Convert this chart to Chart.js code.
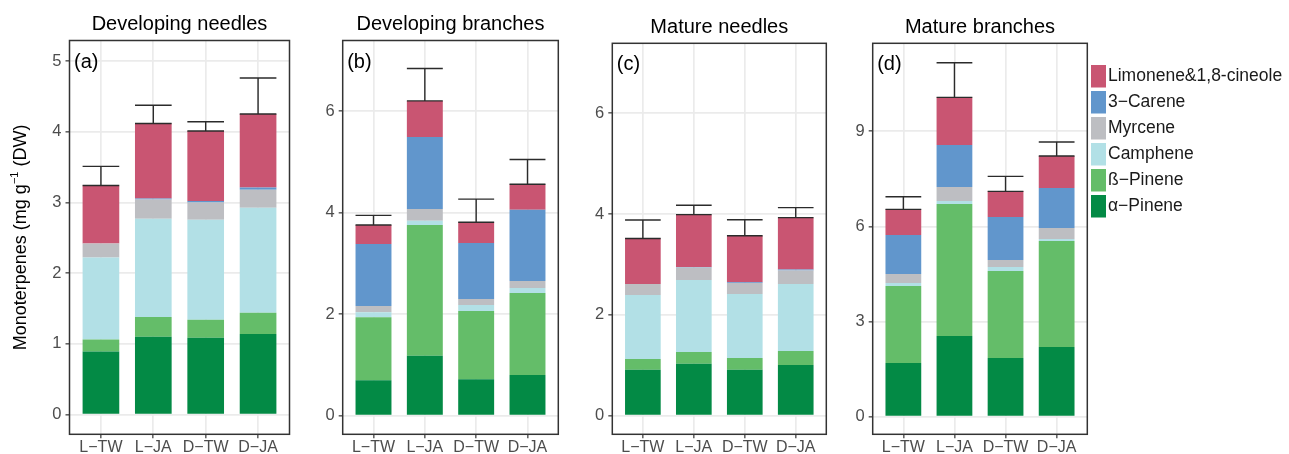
<!DOCTYPE html>
<html>
<head>
<meta charset="utf-8">
<script src="https://cdn.jsdelivr.net/npm/chart.js@4/dist/chart.umd.min.js"></script>
<style>
  html, body { margin: 0; padding: 0; background: #fff; }
  #wrap { position: relative; width: 1289px; height: 454px; overflow: hidden; }
  #wrap canvas { position: absolute; left: 0; top: 0; }
</style>
</head>
<body>
<div id="wrap">
  <canvas id="pa" width="1289" height="454"></canvas>
  <canvas id="pb" width="1289" height="454"></canvas>
  <canvas id="pc" width="1289" height="454"></canvas>
  <canvas id="pd" width="1289" height="454"></canvas>
</div>
<script>
// Treatments on the x axis
const categories = ['L\u2212TW', 'L\u2212JA', 'D\u2212TW', 'D\u2212JA'];

// Compounds, stacked from the bottom up
const compounds = ['\u03b1\u2212Pinene', '\u00df\u2212Pinene', 'Camphene', 'Myrcene', '3\u2212Carene', 'Limonene&1,8-cineole'];
const compoundColors = ['#038a45', '#64bd69', '#b2e0e6', '#bdbec2', '#6196cc', '#c95572'];

// Monoterpene contents (mg g-1 DW), one row per compound, one column per treatment
const devNeedlesValues = [
  [0.89, 1.10, 1.085, 1.14],   // α-Pinene
  [0.17, 0.28, 0.255, 0.30],   // ß-Pinene
  [1.16, 1.39, 1.415, 1.485],  // Camphene
  [0.20, 0.27, 0.245, 0.255],  // Myrcene
  [0.00, 0.015, 0.02, 0.03],   // 3-Carene
  [0.82, 1.06, 0.99, 1.04]     // Limonene & 1,8-cineole
];
const devNeedlesErr = [0.27, 0.26, 0.13, 0.51];

const devBranchesValues = [
  [0.70, 1.18, 0.72, 0.80],
  [1.24, 2.575, 1.34, 1.615],
  [0.10, 0.085, 0.12, 0.10],
  [0.12, 0.23, 0.12, 0.14],
  [1.22, 1.42, 1.10, 1.40],
  [0.375, 0.71, 0.41, 0.505]
];
const devBranchesErr = [0.19, 0.64, 0.455, 0.485];

const matNeedlesValues = [
  [0.91, 1.03, 0.91, 1.005],
  [0.215, 0.235, 0.235, 0.28],
  [1.27, 1.43, 1.27, 1.33],
  [0.22, 0.245, 0.22, 0.265],
  [0.00, 0.01, 0.015, 0.02],
  [0.90, 1.04, 0.92, 1.03]
];
const matNeedlesErr = [0.37, 0.185, 0.32, 0.20];

const matBranchesValues = [
  [1.69, 2.545, 1.85, 2.20],
  [2.43, 4.16, 2.745, 3.34],
  [0.094, 0.094, 0.126, 0.063],
  [0.284, 0.442, 0.221, 0.347],
  [1.23, 1.325, 1.356, 1.261],
  [0.81, 1.503, 0.809, 1.01]
];
const matBranchesErr = [0.40, 1.093, 0.473, 0.442];

// Y tick values per panel
const ticksDevNeedles = [0, 1, 2, 3, 4, 5];
const ticksDevBranches = [0, 2, 4, 6];
const ticksMatNeedles = [0, 2, 4, 6];
const ticksMatBranches = [0, 3, 6, 9];

const FONT = '"Liberation Sans", Arial, Helvetica, sans-serif';
const W = 1289, H = 454;
const Y_AXIS_W = 40, X_AXIS_H = 20;

const panels = [
  { id: 'pa', title: 'Developing needles', tag: '(a)', values: devNeedlesValues, err: devNeedlesErr,
    ticks: ticksDevNeedles, yMin: -0.28, yMax: 5.29, frame: { l: 69.5, t: 40.5, r: 289.5, b: 434.3 }, yTitle: true },
  { id: 'pb', title: 'Developing branches', tag: '(b)', values: devBranchesValues, err: devBranchesErr,
    ticks: ticksDevBranches, yMin: -0.366, yMax: 7.39, frame: { l: 342.7, t: 40.5, r: 558.3, b: 434.3 } },
  { id: 'pc', title: 'Mature needles', tag: '(c)', values: matNeedlesValues, err: matNeedlesErr,
    ticks: ticksMatNeedles, yMin: -0.369, yMax: 7.39, frame: { l: 612.3, t: 43.3, r: 826.3, b: 434.3 } },
  { id: 'pd', title: 'Mature branches', tag: '(d)', values: matBranchesValues, err: matBranchesErr,
    ticks: ticksMatBranches, yMin: -0.555, yMax: 11.775, frame: { l: 872.7, t: 43.3, r: 1087.3, b: 434.3 }, legend: true }
];

// Panel border, title, tag letter, y-axis title and legend
const decorations = {
  id: 'decorations',
  afterDraw(chart, args, opts) {
    const ctx = chart.ctx;
    const a = chart.chartArea;
    ctx.save();
    ctx.strokeStyle = '#333333';
    ctx.lineWidth = 1.5;
    ctx.strokeRect(a.left, a.top, a.right - a.left, a.bottom - a.top);

    ctx.fillStyle = '#000';
    ctx.font = '20px ' + FONT;
    ctx.textAlign = 'center';
    ctx.textBaseline = 'alphabetic';
    ctx.fillText(opts.title, (a.left + a.right) / 2, a.top - 10.5);

    ctx.textAlign = 'left';
    ctx.textBaseline = 'middle';
    ctx.font = '20px ' + FONT;
    ctx.fillText(opts.tag, a.left + 4.5, a.top + 21.5);

    if (opts.yTitle) {
      ctx.save();
      ctx.translate(21.5, (a.top + a.bottom) / 2);
      ctx.rotate(-Math.PI / 2);
      const main = '18px ' + FONT, sup = '11px ' + FONT;
      const parts = [['Monoterpenes (mg g', main, 0], ['\u22121', sup, -7], [' (DW)', main, 0]];
      let total = 0;
      parts.forEach(p => { ctx.font = p[1]; total += ctx.measureText(p[0]).width; });
      let x = -total / 2;
      ctx.fillStyle = '#000';
      ctx.textAlign = 'left';
      ctx.textBaseline = 'middle';
      parts.forEach(p => {
        ctx.font = p[1];
        ctx.fillText(p[0], x, p[2]);
        x += ctx.measureText(p[0]).width;
      });
      ctx.restore();
    }

    if (opts.legend) {
      ctx.font = '17.5px ' + FONT;
      ctx.textAlign = 'left';
      ctx.textBaseline = 'middle';
      const n = compounds.length;
      for (let k = 0; k < n; k++) {
        const idx = n - 1 - k;
        const y = 65 + k * 26;
        ctx.fillStyle = compoundColors[idx];
        ctx.fillRect(1091, y, 15, 22.5);
        ctx.fillStyle = '#1a1a1a';
        ctx.fillText(compounds[idx], 1108, y + 11.5);
      }
    }
    ctx.restore();
  }
};

// Upper standard-error bars on top of each stacked total
const errorBars = {
  id: 'errorBars',
  afterDatasetsDraw(chart, args, opts) {
    const ctx = chart.ctx;
    const xs = chart.scales.x, ys = chart.scales.y;
    const meta = chart.getDatasetMeta(0);
    ctx.save();
    ctx.strokeStyle = '#2b2b2b';
    ctx.lineWidth = 1.4;
    opts.err.forEach((e, i) => {
      let total = 0;
      opts.values.forEach(row => { total += row[i]; });
      const cx = xs.getPixelForValue(i);
      const hw = meta.data[i].width / 2;
      const y0 = ys.getPixelForValue(total);
      const y1 = ys.getPixelForValue(total + e);
      ctx.beginPath();
      ctx.moveTo(cx - hw, y0); ctx.lineTo(cx + hw, y0);
      ctx.moveTo(cx, y0); ctx.lineTo(cx, y1);
      ctx.moveTo(cx - hw, y1); ctx.lineTo(cx + hw, y1);
      ctx.stroke();
    });
    ctx.restore();
  }
};

panels.forEach(p => {
  const f = p.frame;
  const datasets = compounds.map((name, k) => ({
    label: name,
    data: p.values[k].map((v, i) => ({ x: i, y: v })),
    backgroundColor: compoundColors[k],
    borderWidth: 0,
    categoryPercentage: 1,
    barPercentage: 0.7
  }));
  new Chart(document.getElementById(p.id), {
    type: 'bar',
    data: { datasets },
    plugins: [errorBars, decorations],
    options: {
      responsive: false,
      animation: false,
      events: [],
      layout: {
        padding: {
          left: f.l - Y_AXIS_W,
          top: f.t,
          right: W - f.r,
          bottom: H - f.b - X_AXIS_H
        }
      },
      scales: {
        x: {
          type: 'linear',
          stacked: true,
          offset: false,
          min: -0.6,
          max: 3.6,
          afterBuildTicks(scale) { scale.ticks = categories.map((c, i) => ({ value: i })); },
          afterFit(scale) { scale.height = X_AXIS_H; },
          grid: { offset: false, color: '#ebebeb', lineWidth: 1.7, tickColor: '#333333', tickWidth: 1.2, tickLength: 4 },
          border: { display: false },
          ticks: {
            font: { family: FONT, size: 16 },
            color: '#4d4d4d',
            padding: 0,
            maxRotation: 0,
            autoSkip: false,
            callback: (v) => categories[v]
          }
        },
        y: {
          type: 'linear',
          stacked: true,
          min: p.yMin,
          max: p.yMax,
          afterBuildTicks(scale) { scale.ticks = p.ticks.map(v => ({ value: v })); },
          afterFit(scale) { scale.width = Y_AXIS_W; },
          grid: { color: '#ebebeb', lineWidth: 1.7, tickColor: '#333333', tickWidth: 1.2, tickLength: 4 },
          border: { display: false },
          ticks: {
            font: { family: FONT, size: 16.5 },
            color: '#4d4d4d',
            padding: 4,
            callback: (v) => String(v)
          }
        }
      },
      plugins: {
        legend: { display: false },
        tooltip: { enabled: false },
        title: { display: false },
        decorations: { title: p.title, tag: p.tag, yTitle: !!p.yTitle, legend: !!p.legend },
        errorBars: { values: p.values, err: p.err }
      }
    }
  });
});
</script>
</body>
</html>
